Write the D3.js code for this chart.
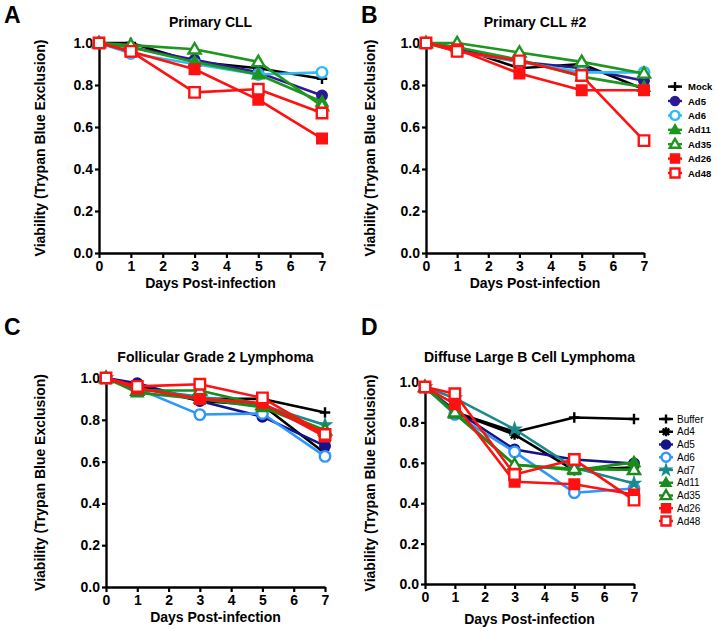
<!DOCTYPE html>
<html><head><meta charset="utf-8">
<script src="https://cdn.jsdelivr.net/npm/d3@7"></script>
<style>body{margin:0;background:#fff}svg{display:block;font-family:"Liberation Sans",Arial,sans-serif}</style>
</head><body><svg id="c" width="718" height="633"></svg>
<script>
// ---- data ----
const days = [0, 1, 3, 5, 7];
const xTicks = [0, 1, 2, 3, 4, 5, 6, 7];
const yTicks = [0, 0.2, 0.4, 0.6, 0.8, 1.0];
const seriesAB = ["Mock", "Ad5", "Ad6", "Ad11", "Ad35", "Ad26", "Ad48"];
const seriesCD = ["Buffer", "Ad4", "Ad5", "Ad6", "Ad7", "Ad11", "Ad35", "Ad26", "Ad48"];
const titles = ["Primary CLL", "Primary CLL #2", "Follicular Grade 2 Lymphoma", "Diffuse Large B Cell Lymphoma"];
const letters = ["A", "B", "C", "D"];
const xLabel = "Days Post-infection";
const yLabel = "Viability (Trypan Blue Exclusion)";
// values per series (rows follow the series lists)
const valuesA = [
  [1.00, 1.00, 0.91, 0.88, 0.83],
  [1.00, 0.98, 0.92, 0.86, 0.75],
  [1.00, 0.95, 0.90, 0.85, 0.86],
  [1.00, 0.98, 0.91, 0.85, 0.72],
  [1.00, 0.99, 0.97, 0.91, 0.70],
  [1.00, 0.96, 0.875, 0.73, 0.545],
  [1.00, 0.96, 0.765, 0.78, 0.667]
];
const valuesB = [
  [1.00, 0.98, 0.88, 0.90, 0.78],
  [1.00, 0.97, 0.91, 0.88, 0.82],
  [1.00, 0.96, 0.91, 0.86, 0.86],
  [1.00, 0.98, 0.92, 0.84, 0.79],
  [1.00, 1.00, 0.955, 0.91, 0.855],
  [1.00, 0.97, 0.855, 0.775, 0.775],
  [1.00, 0.96, 0.915, 0.845, 0.535]
];
const valuesC = [
  [1.00, 0.96, 0.90, 0.90, 0.835],
  [1.00, 0.96, 0.89, 0.87, 0.64],
  [1.00, 0.975, 0.89, 0.815, 0.675],
  [1.00, 0.95, 0.825, 0.83, 0.625],
  [1.00, 0.95, 0.91, 0.87, 0.775],
  [1.00, 0.93, 0.90, 0.86, 0.74],
  [1.00, 0.94, 0.94, 0.87, 0.75],
  [1.00, 0.95, 0.90, 0.88, 0.72],
  [1.00, 0.96, 0.97, 0.905, 0.73]
];
const valuesD = [
  [0.975, 0.85, 0.753, 0.824, 0.817],
  [0.975, 0.85, 0.74, 0.563, 0.578],
  [0.975, 0.86, 0.666, 0.616, 0.596],
  [0.975, 0.84, 0.654, 0.452, 0.473],
  [0.975, 0.92, 0.766, 0.575, 0.498],
  [0.975, 0.843, 0.59, 0.563, 0.602],
  [0.975, 0.85, 0.59, 0.57, 0.565],
  [0.975, 0.89, 0.506, 0.494, 0.443],
  [0.975, 0.942, 0.542, 0.616, 0.415]
];

// ---- styles ----
const styleAB = {
  Mock: {c: "#000000", m: "plus"}, Ad5: {c: "#2b1a94", m: "circle", f: true},
  Ad6: {c: "#2ebcf3", m: "circle", f: false}, Ad11: {c: "#1f961f", m: "tri", f: true},
  Ad35: {c: "#1f961f", m: "tri", f: false}, Ad26: {c: "#ff1111", m: "square", f: true},
  Ad48: {c: "#ff1111", m: "square", f: false}
};
const styleCD = {
  Buffer: {c: "#000000", m: "plus"}, Ad4: {c: "#000000", m: "ast"},
  Ad5: {c: "#13138a", m: "circle", f: true}, Ad6: {c: "#3196fa", m: "circle", f: false},
  Ad7: {c: "#198a8a", m: "star", f: true}, Ad11: {c: "#1a8c1a", m: "tri", f: true},
  Ad35: {c: "#1a8c1a", m: "tri", f: false}, Ad26: {c: "#ff1111", m: "square", f: true},
  Ad48: {c: "#ff1111", m: "square", f: false}
};
const layout = [
  {x0: 99, x1: 322, yT: 43, yB: 253, tY: 27, lX: 4, lY: 23, ytX: 39.5, xtY: 288, vals: valuesA, names: seriesAB, st: styleAB,
   leg: {x: 675, y: 86.6, step: 14.4, bold: true, tx: 688}},
  {x0: 426, x1: 644, yT: 43, yB: 253, tY: 27, lX: 361, lY: 23, ytX: 370, xtY: 288, vals: valuesB, names: seriesAB, st: styleAB,
   leg: {x: 675, y: 86.6, step: 14.4, bold: true, tx: 688}, showLeg: true},
  {x0: 106, x1: 325, yT: 378, yB: 587, tY: 362, lX: 4, lY: 335, ytX: 39.5, xtY: 622, vals: valuesC, names: seriesCD, st: styleCD},
  {x0: 425, x1: 634, yT: 382, yB: 584, tY: 362, lX: 361, lY: 335, ytX: 370, xtY: 624, vals: valuesD, names: seriesCD, st: styleCD,
   leg: {x: 666, y: 419, step: 12.75, bold: false, tx: 677}, showLeg: true}
];

const svg = d3.select("#c");

function markerPath(m, s) {
  const k = s;
  if (m === "circle") return d3.symbol(d3.symbolCircle, Math.PI * k * k * 0.25)();
  if (m === "square") return `M${-k/2},${-k/2}h${k}v${k}h${-k}Z`;
  if (m === "tri") { const h = k * 0.95; return `M0,${-h*0.62}L${k*0.58},${h*0.42}L${-k*0.58},${h*0.42}Z`; }
  if (m === "star") return d3.symbol(d3.symbolStar, k * k * 0.42)();
  if (m === "plus") return `M${-k/2},0H${k/2}M0,${-k/2}V${k/2}`;
  if (m === "ast") { const r = k / 2, d = r * 0.72; return `M${-r},0H${r}M0,${-r}V${r}M${-d},${-d}L${d},${d}M${-d},${d}L${d},${-d}`; }
}
function drawMarker(g, st, x, y, size) {
  const p = g.append("path").attr("transform", `translate(${x},${y})`).attr("d", markerPath(st.m, size));
  if (st.m === "plus" || st.m === "ast") p.attr("fill", "none").attr("stroke", st.c).attr("stroke-width", 2.4);
  else if (st.f) p.attr("fill", st.c).attr("stroke", st.c).attr("stroke-width", 1.5);
  else p.attr("fill", "#fff").attr("stroke", st.c).attr("stroke-width", 2.4);
}

layout.forEach((L, i) => {
  const x = d3.scaleLinear().domain([0, 7]).range([L.x0, L.x1]);
  const y = d3.scaleLinear().domain([0, 1]).range([L.yB, L.yT]);
  const g = svg.append("g");

  // axes
  const ax = g.append("g").attr("transform", `translate(0,${L.yB})`)
    .call(d3.axisBottom(x).tickValues(xTicks).tickFormat(d3.format("d")).tickSize(5).tickSizeOuter(0).tickPadding(3));
  const ay = g.append("g").attr("transform", `translate(${L.x0},0)`)
    .call(d3.axisLeft(y).tickValues(yTicks).tickFormat(d3.format(".1f")).tickSize(4).tickSizeOuter(0).tickPadding(2));
  [ax, ay].forEach(a => {
    a.select(".domain").attr("stroke", "#000").attr("stroke-width", 2.4);
    a.selectAll(".tick line").attr("stroke", "#000").attr("stroke-width", 2.2);
    a.selectAll(".tick text").attr("fill", "#000").attr("font-size", 14).attr("font-weight", "bold")
      .attr("font-family", '"Liberation Sans", Arial, sans-serif');
  });

  // series
  const line = d3.line().x((d, j) => x(days[j])).y(d => y(d));
  L.names.forEach((n, si) => {
    const st = L.st[n];
    const vals = L.vals[si];
    g.append("path").datum(vals).attr("d", line).attr("fill", "none")
      .attr("stroke", st.c).attr("stroke-width", 2.6).attr("stroke-linejoin", "round");
    vals.forEach((v, j) => drawMarker(g, st, x(days[j]), y(v), 10.5));
  });

  // texts
  const cx = (L.x0 + L.x1) / 2;
  g.append("text").attr("x", cx).attr("y", L.tY).attr("text-anchor", "middle")
    .attr("font-size", 14).attr("font-weight", "bold").text(titles[i]);
  g.append("text").attr("x", L.lX).attr("y", L.lY).attr("font-size", 23).attr("font-weight", "bold").text(letters[i]);
  g.append("text").attr("x", cx).attr("y", L.xtY).attr("text-anchor", "middle")
    .attr("font-size", 14).attr("font-weight", "bold").text(xLabel);
  g.append("text").attr("transform", `translate(${L.ytX + 5},${(L.yT + L.yB) / 2}) rotate(-90)`)
    .attr("text-anchor", "middle").attr("font-size", 14).attr("font-weight", "bold").text(yLabel);

  // legend
  if (L.showLeg) {
    const lg = svg.append("g");
    L.names.forEach((n, si) => {
      const st = L.st[n];
      const yy = L.leg.y + si * L.leg.step;
      lg.append("line").attr("x1", L.leg.x - 7).attr("x2", L.leg.x + 7).attr("y1", yy).attr("y2", yy)
        .attr("stroke", st.c).attr("stroke-width", 2.4);
      drawMarker(lg, st, L.leg.x, yy, 9);
      lg.append("text").attr("x", L.leg.tx).attr("y", yy + 3.5).attr("font-size", L.leg.bold ? 9.5 : 10)
        .attr("font-weight", L.leg.bold ? "bold" : "normal").text(n);
    });
  }
});
</script></body></html>
